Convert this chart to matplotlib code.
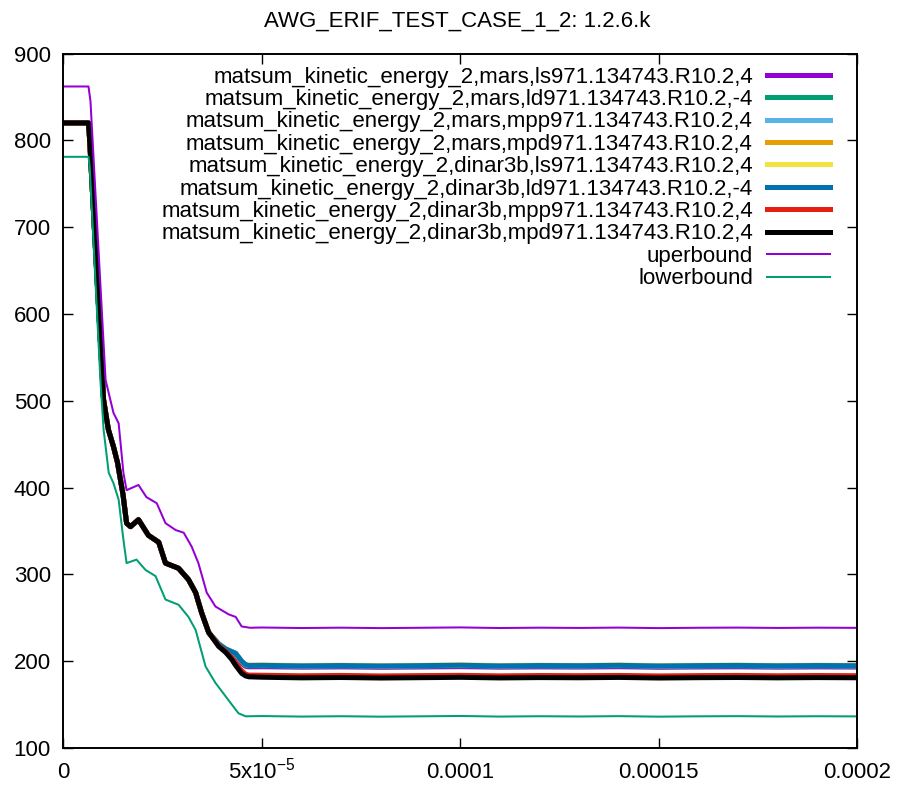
import matplotlib
matplotlib.use("Agg")
from matplotlib import pyplot as plt

plt.rcParams["font.family"] = ["Liberation Sans", "DejaVu Sans"]

# time axis in units of 1e-5 s
time_1e5 = [0, 0.63, 0.66, 1.01, 1.13, 1.26, 1.36, 1.50, 1.59, 1.69, 1.89,
            2.14, 2.40, 2.57, 2.90, 3.15, 3.33, 3.48, 3.66,
            3.91, 4.09, 4.24, 4.34, 4.49, 4.59, 4.67,
            5, 6, 7, 8, 9, 10, 11, 12, 13, 14, 15, 16, 17, 18, 19, 20]

# shared initial drop (all runs overlap here)
drop = [820, 820, 800, 501, 467, 447, 429, 392, 359, 355, 363,
        345, 337, 313, 307, 294, 279, 256, 233]

ls_mars = drop + [219, 213, 210, 207, 198, 194, 193.5] + \
    [193.6, 193.1, 193.4, 193.0, 193.3, 193.7, 193.1, 193.4, 193.2, 193.6, 193.0, 193.3, 193.5, 193.1, 193.4, 193.2]
ld_mars = drop + [219, 214, 210, 208, 199, 195, 194.5] + \
    [194.6, 194.1, 194.4, 194.0, 194.3, 194.7, 194.1, 194.4, 194.2, 194.6, 194.0, 194.3, 194.5, 194.1, 194.4, 194.2]
mpp_mars = drop + [220, 214, 211, 209, 200, 196, 195.0] + \
    [195.1, 194.6, 194.9, 194.5, 194.8, 195.2, 194.6, 194.9, 194.7, 195.1, 194.5, 194.8, 195.0, 194.6, 194.9, 194.7]
mpd_mars = drop + [220, 214, 211, 209, 200, 196, 195.2] + \
    [195.3, 194.8, 195.1, 194.7, 195.0, 195.4, 194.8, 195.1, 194.9, 195.3, 194.7, 195.0, 195.2, 194.8, 195.1, 194.9]
ls_dinar3b = drop + [220, 214, 211, 209, 200, 196, 195.5] + \
    [195.6, 195.1, 195.4, 195.0, 195.3, 195.7, 195.1, 195.4, 195.2, 195.6, 195.0, 195.3, 195.5, 195.1, 195.4, 195.2]
ld_dinar3b = drop + [220, 214, 211, 209, 200, 196, 195] + \
    [195.2, 194.6, 195.0, 194.5, 194.9, 195.3, 194.6, 195.0, 194.8, 195.2, 194.5, 194.9, 195.1, 194.7, 195.0, 194.8]
mpp_dinar3b = drop + [218, 211, 204, 198, 189, 185, 184] + \
    [183.8, 183.2, 183.6, 183.0, 183.4, 183.7, 183.1, 183.5, 183.3, 183.6, 183.0, 183.4, 183.6, 183.2, 183.5, 183.3]
mpd_dinar3b = drop + [217, 210, 202, 195, 186, 183, 182] + \
    [181.5, 180.8, 181.2, 180.6, 181.0, 181.4, 180.7, 181.1, 180.9, 181.3, 180.6, 181.0, 181.2, 180.8, 181.1, 180.9]

upper_time = [0, 0.63, 0.68, 1.06, 1.26, 1.39, 1.51, 1.59, 1.89, 2.09, 2.35,
              2.57, 2.83, 3.03, 3.23, 3.40, 3.61, 3.83, 4.16, 4.34, 4.49, 4.70,
              5, 6, 7, 8, 9, 10, 11, 12, 13, 14, 15, 16, 17, 18, 19, 20]
upperbound = [862, 862, 845, 524, 486, 474, 417, 397, 403, 389, 382,
              359, 351, 348, 332, 313, 279, 263, 254, 251, 240, 238.5,
              238.8, 238.2, 238.6, 238.1, 238.5, 238.9, 238.2, 238.6, 238.3, 238.7, 238.1, 238.5, 238.7, 238.3, 238.6, 238.4]

lower_time = [0, 0.63, 0.66, 0.93, 1.01, 1.14, 1.26, 1.39, 1.51, 1.59, 1.84,
              2.07, 2.32, 2.57, 2.90, 3.15, 3.33, 3.58, 3.83, 4.16, 4.41, 4.59,
              5, 6, 7, 8, 9, 10, 11, 12, 13, 14, 15, 16, 17, 18, 19, 20]
lowerbound = [781, 781, 770, 524, 467, 417, 405, 386, 340, 313, 317,
              305, 298, 271, 265, 251, 236, 194, 175, 155, 140, 136.5,
              136.8, 136.2, 136.6, 136.1, 136.5, 136.9, 136.2, 136.6, 136.3, 136.7, 136.1, 136.5, 136.7, 136.3, 136.6, 136.4]

x_ticks = [0, 5, 10, 15, 20]
x_tick_labels = ["0", r"5x10$^{\mathregular{-5}}$", "0.0001", "0.00015", "0.0002"]

runs = [
    ("matsum_kinetic_energy_2,mars,ls971.134743.R10.2,4", ls_mars, "#9400d3"),
    ("matsum_kinetic_energy_2,mars,ld971.134743.R10.2,-4", ld_mars, "#009e73"),
    ("matsum_kinetic_energy_2,mars,mpp971.134743.R10.2,4", mpp_mars, "#56b4e9"),
    ("matsum_kinetic_energy_2,mars,mpd971.134743.R10.2,4", mpd_mars, "#e69f00"),
    ("matsum_kinetic_energy_2,dinar3b,ls971.134743.R10.2,4", ls_dinar3b, "#f0e442"),
    ("matsum_kinetic_energy_2,dinar3b,ld971.134743.R10.2,-4", ld_dinar3b, "#0072b2"),
    ("matsum_kinetic_energy_2,dinar3b,mpp971.134743.R10.2,4", mpp_dinar3b, "#e51e10"),
    ("matsum_kinetic_energy_2,dinar3b,mpd971.134743.R10.2,4", mpd_dinar3b, "black"),
]

W, H = 901, 787
fig = plt.figure(figsize=(W / 100, H / 100), dpi=100)
ax = fig.add_axes([63.5 / W, (H - 748) / H, (857 - 63.5) / W, (748 - 53.5) / H])

for label, vals, color in runs:
    ax.plot(time_1e5, vals, color=color, lw=3.6, label=label, solid_joinstyle="round")
ax.plot(upper_time, upperbound, color="#9400d3", lw=1.45, label="uperbound")
ax.plot(lower_time, lowerbound, color="#009e73", lw=1.45, label="lowerbound")

ax.set_xlim(0, 20)
ax.set_ylim(100, 900)
ax.set_xticks(x_ticks)
ax.set_xticklabels(x_tick_labels)
ax.set_yticks(range(100, 901, 100))
ax.tick_params(direction="in", length=7.2, width=1, top=True, right=True, labelsize=16)
ax.tick_params(axis="x", pad=21.6)
ax.tick_params(axis="y", pad=9)
# baseline-align x labels so the superscript label sits like the others
for tick in ax.xaxis.get_major_ticks():
    tick.label1.set_verticalalignment("baseline")
for s in ax.spines.values():
    s.set_linewidth(1.4)

fig.text(457 / W, 1 - 21 / H, "AWG_ERIF_TEST_CASE_1_2: 1.2.6.k", fontsize=16,
         ha="center", va="center")

ax.legend(loc="upper right", bbox_to_anchor=(830 / W, 1 - 66.5 / H),
          bbox_transform=fig.transFigure, markerfirst=False, frameon=False,
          fontsize=16, handlelength=2.84, handletextpad=0.63,
          labelspacing=0.064, borderpad=0, borderaxespad=0)

fig.savefig("out.png", dpi=100)
